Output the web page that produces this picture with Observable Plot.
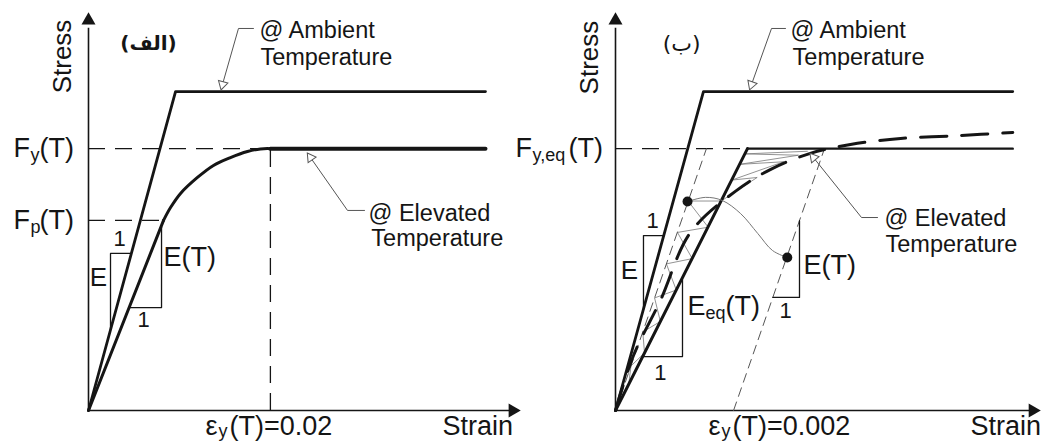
<!DOCTYPE html>
<html><head><meta charset="utf-8">
<script src="https://cdn.jsdelivr.net/npm/d3@7"></script>
<script src="https://cdn.jsdelivr.net/npm/@observablehq/plot@0.6"></script>
<style>
body{margin:0;background:#fff;}
#wrap{display:flex;width:1044px;height:446px;overflow:hidden;}
#wrap svg{font-family:"Liberation Sans",Arial,Helvetica,sans-serif;}
</style></head><body><div id="wrap"></div>
<script>
// ---------- Panel (الف): strain vs normalised stress (Fy(T) = 1) ----------
const ambientA   = [[0,0],[0.00957,1.218],[0.04365,1.218]];
const elevLinA   = [[0,0],[0.00825,0.726]];
const elevCurveA = [[0.00825,0.726],[0.00902,0.775],[0.01012,0.829],[0.01198,0.890],[0.01374,0.936],[0.01561,0.966],[0.01748,0.989],[0.01891,0.999],[0.0200,1.0]];
const elevFlatA  = [[0.0200,1.0],[0.04365,1.0]];
const fyA = 1.0, fpA = 0.726, eyA = 0.02, fpStrainA = 0.00825;
const slopeEA    = [[0.00471,0.600],[0.00242,0.600],[0.00242,0.308]];
const slopeETA   = [[0.00447,0.393],[0.00803,0.393],[0.00803,0.700]];
const leadAmbA   = [[0.01814,1.459],[0.01649,1.459],[0.01473,1.245]];
const leadElevA  = [[0.03035,0.764],[0.02848,0.764],[0.02441,0.966]];

// ---------- Panel (ب): strain vs normalised stress (Fy,eq(T) = 1) ----------
const ambientB   = [[0,0],[0.00149,1.218],[0.00673,1.218]];
const eqLineB    = [[0,0],[0.002236,1.0]];
const elevFlatB  = [[0.002236,1.0],[0.00673,1.0]];
const fyEqB = 1.0, eyB = 0.002;
const eTLine1B   = [[0,0],[0.00154,1.0]];
const eTLine2B   = [[0.002,0],[0.00354,1.0]];
const realCurveB = [[0,0],[0.000305,0.21],[0.00076,0.42],[0.00127,0.680],[0.00203,0.837],[0.00263,0.921],[0.0033,0.982],[0.00398,1.016],[0.00483,1.039],[0.00584,1.050],[0.00673,1.062]];
const hatchB     = [[0.000224,0.10],[0.000262,0.17],[0.000492,0.22],[0.000462,0.30],[0.00076,0.34],[0.000662,0.43],[0.00103,0.46],[0.000862,0.56],[0.0013,0.58],[0.00105,0.68],[0.00157,0.70],[0.00123,0.80],[0.00179,0.80],[0.0024,0.89],[0.00197,0.88],[0.00285,0.95],[0.0021,0.94],[0.0031,0.975],[0.00219,0.98],[0.00325,0.99]];
const dotsB      = [[0.00122,0.798],[0.00291,0.584]];
const linkCurveB = [[0.00122,0.798],[0.001525,0.814],[0.00181,0.802],[0.00212,0.752],[0.00241,0.676],[0.00266,0.611],[0.00291,0.584]];
const slopeEB    = [[0.000817,0.668],[0.000474,0.668],[0.000474,0.387]];
const slopeEqB   = [[0.00046,0.206],[0.001135,0.206],[0.001135,0.50]];
const slopeETB   = [[0.002665,0.432],[0.003117,0.432],[0.003117,0.725]];
const leadAmbB   = [[0.00288,1.459],[0.002643,1.459],[0.002304,1.245]];
const leadElevB  = [[0.004439,0.737],[0.004168,0.737],[0.003354,0.966]];

const INK = "#151515", GREY = "#555";
const X = d => d[0], Y = d => d[1];
const L = (data, o) => Plot.line(data, {x: X, y: Y, stroke: INK, strokeWidth: 3, ...o});
const T = (x, y, text, o) => Plot.text([{x, y, text}], {x: "x", y: "y", text: "text", fill: INK, fontSize: 27, ...o});
const dashOpts = {stroke: INK, strokeWidth: 1.3, strokeDasharray: "17,10"};
const yLab = -0.062;

function panel(cfg, marks) {
  return Plot.plot({
    width: 522, height: 446,
    marginLeft: cfg.ml, marginRight: cfg.mr, marginTop: 12, marginBottom: 36,
    x: {domain: [0, cfg.xmax], axis: null},
    y: {domain: [0, 1.52], axis: null},
    style: {background: "#fff", overflow: "visible"},
    marks: [
      Plot.ruleX([0], {y1: 0, y2: 1.46, stroke: INK, strokeWidth: 1.6}),
      Plot.ruleY([0], {x1: 0, x2: cfg.xArrow, stroke: INK, strokeWidth: 1.6}),
      Plot.dot([[0, 1.49]], {x: X, y: Y, symbol: "triangle", r: 5.2, fill: INK, stroke: null}),
      Plot.dot([[cfg.xArrow, 0]], {x: X, y: Y, symbol: "triangle", r: 5.2, fill: INK, stroke: null, rotate: 90}),
      ...marks
    ]
  });
}

const chartA = panel({ml: 88, mr: 2, xmax: 0.0475, xArrow: 0.04664}, [
  Plot.ruleY([fyA], {x1: 0, x2: eyA, ...dashOpts}),
  Plot.ruleY([fpA], {x1: 0, x2: fpStrainA, ...dashOpts}),
  Plot.ruleX([eyA], {y1: 0, y2: fyA, ...dashOpts}),
  L(ambientA, {strokeWidth: 2.8}),
  L(elevLinA, {strokeWidth: 3}),
  L(elevCurveA, {strokeWidth: 3, curve: "catmull-rom"}),
  L(elevFlatA, {strokeWidth: 4}),
  L(slopeEA, {strokeWidth: 1.3}),
  L(slopeETA, {strokeWidth: 1.3}),
  L(leadAmbA, {stroke: GREY, strokeWidth: 1}),
  L(leadElevA, {stroke: GREY, strokeWidth: 1}),
  Plot.dot([leadAmbA[2]], {x: X, y: Y, symbol: "triangle", r: 3.6, fill: "#fff", stroke: GREY, strokeWidth: 1, rotate: 195}),
  Plot.dot([leadElevA[2]], {x: X, y: Y, symbol: "triangle", r: 3.6, fill: "#fff", stroke: GREY, strokeWidth: 1, rotate: -35}),
  T(-0.00286, 1.352, "Stress", {rotate: -90, fontSize: 26}),
  T(0.0066, 1.40, "(الف)", {fontFamily: "DejaVu Sans", fontWeight: "bold", fontSize: 20}),
  T(0, fyA, "F", {textAnchor: "start", dx: -75}),
  T(0, fyA, "y", {textAnchor: "start", dx: -58, dy: 7, fontSize: 18}),
  T(0, fyA, "(T)", {textAnchor: "start", dx: -49}),
  T(0, fpA, "F", {textAnchor: "start", dx: -75}),
  T(0, fpA, "p", {textAnchor: "start", dx: -58, dy: 7, fontSize: 18}),
  T(0, fpA, "(T)", {textAnchor: "start", dx: -49}),
  T(0.00341, 0.657, "1", {fontSize: 22}),
  T(0.0011, 0.508, "E", {fontSize: 26}),
  T(0.00825, 0.584, "E(T)", {textAnchor: "start"}),
  T(0.00605, 0.344, "1", {fontSize: 22}),
  T(0.01286, yLab, "ε", {textAnchor: "start"}),
  T(0.01286, yLab, "y", {textAnchor: "start", dx: 13, dy: 5, fontSize: 18}),
  T(0.01286, yLab, "(T)=0.02", {textAnchor: "start", dx: 24}),
  T(0.03892, yLab, "Strain", {textAnchor: "start"}),
  T(0.0188, 1.451, "@ Ambient", {textAnchor: "start", fontSize: 23.5}),
  T(0.0189, 1.348, "Temperature", {textAnchor: "start", fontSize: 23.5}),
  T(0.03079, 0.752, "@ Elevated", {textAnchor: "start", fontSize: 23.5}),
  T(0.0311, 0.657, "Temperature", {textAnchor: "start", fontSize: 23.5})
]);

const chartB = panel({ml: 93, mr: 4, xmax: 0.0072, xArrow: 0.007068}, [
  Plot.ruleY([fyEqB], {x1: 0, x2: 0.002236, ...dashOpts}),
  L(hatchB, {stroke: "#777", strokeWidth: 0.8}),
  L(eTLine1B, {stroke: GREY, strokeWidth: 1, strokeDasharray: "9,6"}),
  L(eTLine2B, {stroke: GREY, strokeWidth: 1, strokeDasharray: "9,6"}),
  L(ambientB, {strokeWidth: 2.8}),
  L(eqLineB, {strokeWidth: 3}),
  L(elevFlatB, {strokeWidth: 2.4}),
  L(realCurveB, {strokeWidth: 3, strokeDasharray: "26,15", curve: "catmull-rom"}),
  L(linkCurveB, {stroke: "#777", strokeWidth: 1, curve: "catmull-rom"}),
  Plot.dot(dotsB, {x: X, y: Y, r: 5, fill: INK, stroke: null}),
  L(slopeEB, {strokeWidth: 1.3}),
  L(slopeEqB, {strokeWidth: 1.3}),
  L(slopeETB, {strokeWidth: 1.3}),
  L(leadAmbB, {stroke: GREY, strokeWidth: 1}),
  L(leadElevB, {stroke: GREY, strokeWidth: 1}),
  Plot.dot([leadAmbB[2]], {x: X, y: Y, symbol: "triangle", r: 3.6, fill: "#fff", stroke: GREY, strokeWidth: 1, rotate: 200}),
  Plot.dot([leadElevB[2]], {x: X, y: Y, symbol: "triangle", r: 3.6, fill: "#fff", stroke: GREY, strokeWidth: 1, rotate: -40}),
  T(-0.00044, 1.348, "Stress", {rotate: -90, fontSize: 26}),
  T(0.00112, 1.40, "(ب)", {fontFamily: "DejaVu Sans", fontSize: 22}),
  T(0, fyEqB, "F", {textAnchor: "start", dx: -100}),
  T(0, fyEqB, "y,eq", {textAnchor: "start", dx: -83, dy: 7, fontSize: 18}),
  T(0, fyEqB, "(T)", {textAnchor: "start", dx: -47}),
  T(0.000627, 0.722, "1", {fontSize: 22}),
  T(0.000237, 0.535, "E", {fontSize: 26}),
  T(0.00122, 0.397, "E", {textAnchor: "start"}),
  T(0.00122, 0.397, "eq", {textAnchor: "start", dx: 18, dy: 7, fontSize: 18}),
  T(0.00122, 0.397, "(T)", {textAnchor: "start", dx: 38}),
  T(0.000762, 0.145, "1", {fontSize: 22}),
  T(0.003185, 0.554, "E(T)", {textAnchor: "start"}),
  T(0.00288, 0.382, "1", {fontSize: 22}),
  T(0.001576, yLab, "ε", {textAnchor: "start"}),
  T(0.001576, yLab, "y", {textAnchor: "start", dx: 13, dy: 5, fontSize: 18}),
  T(0.001576, yLab, "(T)=0.002", {textAnchor: "start", dx: 24}),
  T(0.006014, yLab, "Strain", {textAnchor: "start"}),
  T(0.002965, 1.451, "@ Ambient", {textAnchor: "start", fontSize: 23.5}),
  T(0.003, 1.348, "Temperature", {textAnchor: "start", fontSize: 23.5}),
  T(0.004557, 0.733, "@ Elevated", {textAnchor: "start", fontSize: 23.5}),
  T(0.004574, 0.634, "Temperature", {textAnchor: "start", fontSize: 23.5})
]);

const wrap = document.getElementById("wrap");
wrap.append(chartA, chartB);
</script></body></html>
